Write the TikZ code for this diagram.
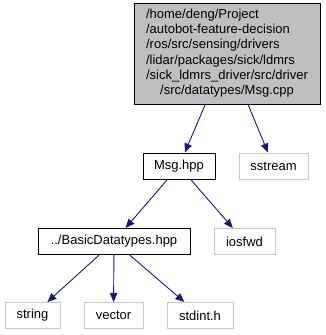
\documentclass[tikz,border=0pt]{standalone}
\usepackage{fontspec}
\setmainfont{Liberation Sans}
\usetikzlibrary{arrows.meta}
\definecolor{edgeblue}{RGB}{25,25,112}
\definecolor{boxgray}{RGB}{191,191,191}
\definecolor{extgray}{RGB}{200,200,200}
\begin{document}
\begin{tikzpicture}[x=1pt,y=-1pt,
    font=\fontsize{13}{15.2}\selectfont,
    file/.style={draw=black,line width=1pt,inner sep=0pt,
                 minimum height=26pt},
    sysfile/.style={draw=extgray,line width=1pt,inner sep=0pt,
                 minimum height=26pt},
    dep/.style={draw=edgeblue,line width=0.9pt,
                -{Triangle[length=9pt,width=7.5pt]}}]
  \useasboundingbox (0,0) rectangle (325,335);

  %draw nodes
  \node[file,fill=boxgray,minimum width=186pt,minimum height=101pt]
    (msgcpp) at (227,53.5) {\begin{tabular}{@{}l@{}}
      /home/deng/Project\\
      /autobot-feature-decision\\
      /ros/src/sensing/drivers\\
      /lidar/packages/sick/ldmrs\\
      /sick\_ldmrs\_driver/src/driver\\
      \multicolumn{1}{@{}c@{}}{/src/datatypes/Msg.cpp}
    \end{tabular}};
  \node[file,minimum width=72pt] (msghpp) at (179,166) {Msg.hpp};
  \node[sysfile,minimum width=69pt] (sstream) at (273.5,166) {sstream};
  \node[file,minimum width=152pt] (basic) at (114,241.5) {../BasicDatatypes.hpp};
  \node[sysfile,minimum width=61pt] (iosfwd) at (244.5,241.5) {iosfwd};
  \node[sysfile,minimum width=55pt] (string) at (32.5,315.5) {string};
  \node[sysfile,minimum width=59pt] (vector) at (113.5,315.5) {vector};
  \node[sysfile,minimum width=66pt] (stdint) at (200,315.5) {stdint.h};

  %draw arrows
  \draw[dep] (msgcpp) -- (msghpp);
  \draw[dep] (msgcpp) -- (sstream);
  \draw[dep] (msghpp) -- (basic);
  \draw[dep] (msghpp) -- (iosfwd);
  \foreach \n in {string,vector,stdint}
     \draw[dep] (basic) -- (\n);
\end{tikzpicture}
\end{document}
